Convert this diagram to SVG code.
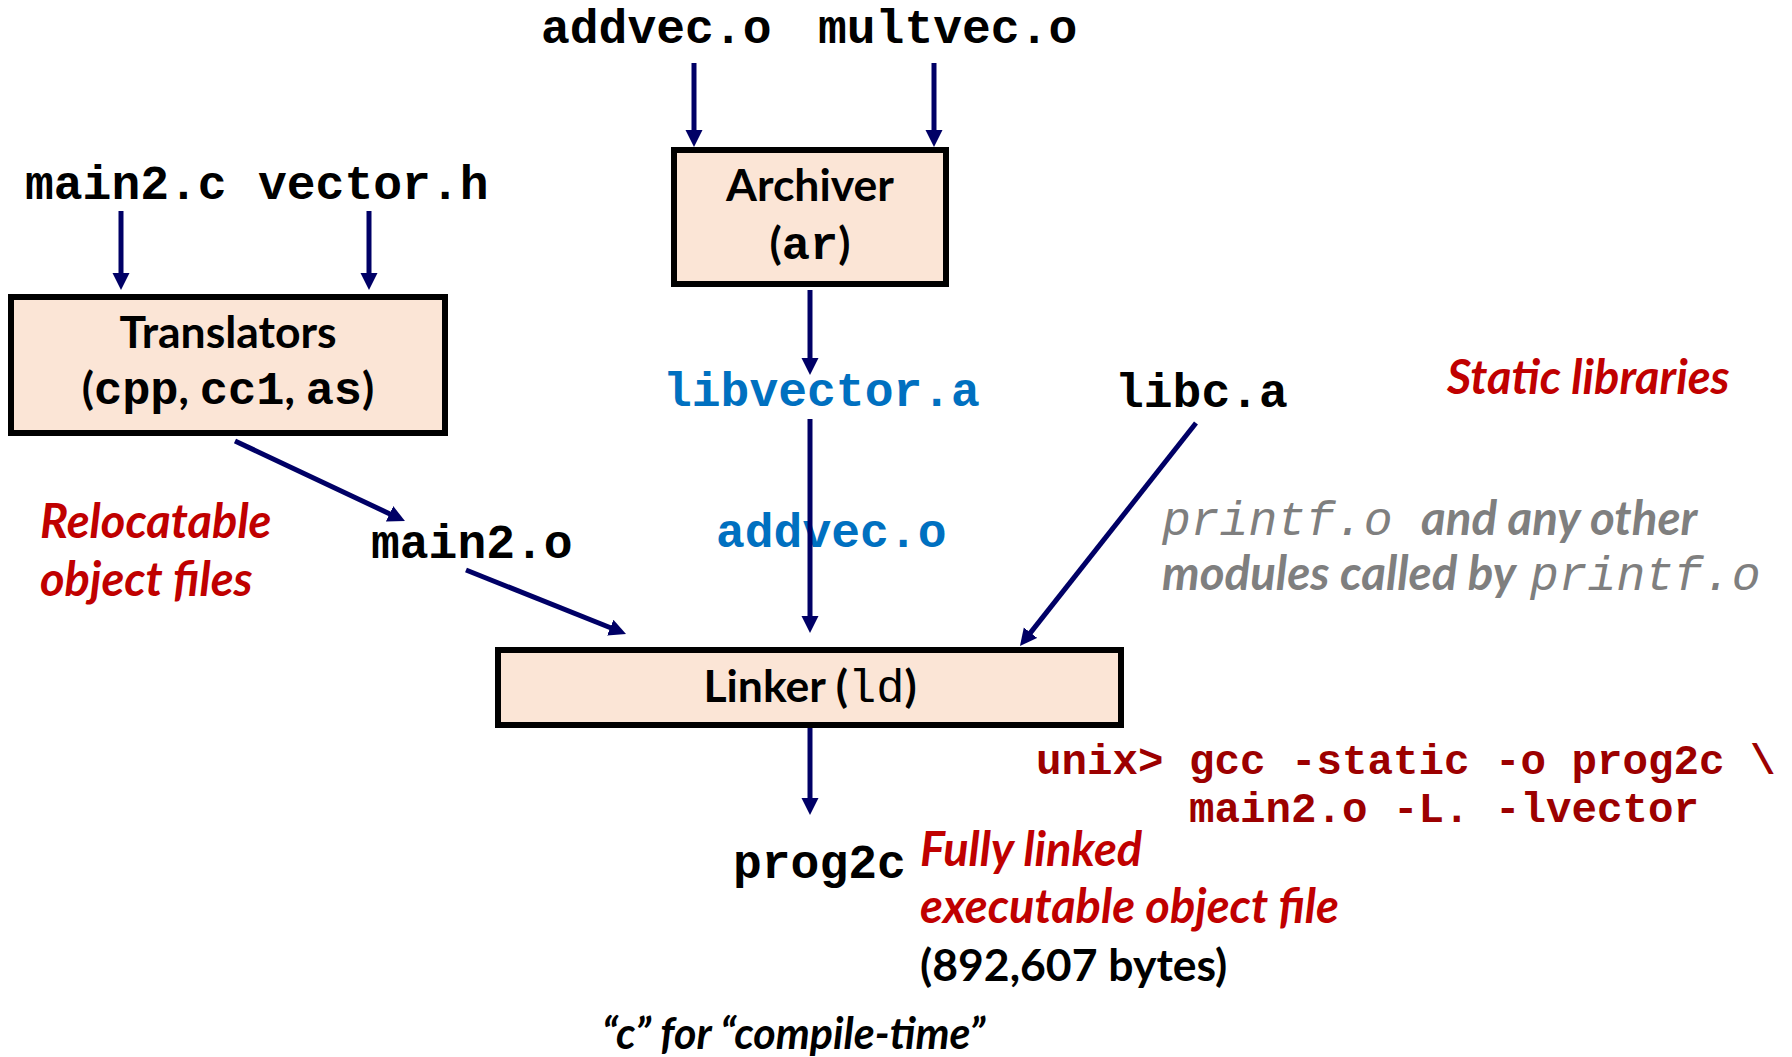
<svg xmlns="http://www.w3.org/2000/svg" width="1792" height="1057" viewBox="0 0 1792 1057">
  <defs>
    <!-- filled navy arrowhead; tip sits 12px past the end of the line -->
    <marker id="ah" markerUnits="userSpaceOnUse" markerWidth="18" markerHeight="18" viewBox="0 -9 18 18" refX="5" refY="0" orient="auto">
      <path d="M0,-8.5 L17,0 L0,8.5 z" fill="#000066"/>
    </marker>
    <style>
      .box { fill: #fbe5d6; stroke: #000; stroke-width: 6; }
      .mono { font-family: "Liberation Mono", "Courier New", monospace; font-weight: bold; font-size: 48px; fill: #000; }
      .lbl { font-family: Lato, "Open Sans", sans-serif; font-weight: bold; font-size: 44.5px; fill: #000; }
      .boxmono { font-family: "Liberation Mono", "Courier New", monospace; font-weight: bold; font-size: 47px; }
      .blue { fill: #0070c0; }
      .note { font-family: Lato, "Open Sans", sans-serif; font-weight: bold; font-style: italic; font-size: 47px; fill: #c00000; }
      .gray { font-family: Lato, "Open Sans", sans-serif; font-weight: bold; font-style: italic; font-size: 47.5px; fill: #7f7f7f; }
      .graymono { font-family: "Liberation Mono", "Courier New", monospace; font-style: italic; font-weight: normal; font-size: 48px; fill: #7f7f7f; }
      .cmd { font-family: "Liberation Mono", "Courier New", monospace; font-weight: bold; font-size: 42.5px; fill: #9c0000; }
      .conn line { stroke: #000066; stroke-width: 5; marker-end: url(#ah); }
    </style>
  </defs>
  <rect width="1792" height="1057" fill="#fff"/>

  <!-- source files -->
  <g id="src-main2c"><text class="mono" x="25" y="199">main2.c</text></g>
  <g id="src-vectorh"><text class="mono" x="258" y="199">vector.h</text></g>
  <g id="src-addvec"><text class="mono" x="541" y="43">addvec.o</text></g>
  <g id="src-multvec"><text class="mono" x="818" y="43">multvec.o</text></g>

  <!-- translators -->
  <g id="translators">
    <rect class="box" x="11" y="297" width="434" height="136"/>
    <text class="lbl" x="228" y="348" text-anchor="middle">Translators</text>
    <text class="lbl" x="228" y="404" text-anchor="middle">(<tspan class="boxmono">cpp</tspan>, <tspan class="boxmono">cc1</tspan>, <tspan class="boxmono">as</tspan>)</text>
  </g>

  <!-- archiver -->
  <g id="archiver">
    <rect class="box" x="674" y="150" width="272" height="134"/>
    <text class="lbl" x="810" y="201" text-anchor="middle">Archiver</text>
    <text class="lbl" x="810" y="259" text-anchor="middle">(<tspan class="boxmono">ar</tspan>)</text>
  </g>

  <!-- intermediate objects and libraries -->
  <g id="main2o"><text class="mono" x="371" y="558">main2.o</text></g>
  <g id="libvector"><text class="mono blue" x="663" y="406">libvector.a</text></g>
  <g id="addvec-member"><text class="mono blue" x="716" y="547">addvec.o</text></g>
  <g id="libc"><text class="mono" x="1115" y="407">libc.a</text></g>

  <!-- linker -->
  <g id="linker">
    <rect class="box" x="498" y="650" width="623" height="75"/>
    <text class="lbl" x="810" y="702" text-anchor="middle">Linker (<tspan class="boxmono" style="font-weight:normal">ld</tspan>)</text>
  </g>

  <!-- executable -->
  <g id="prog2c"><text class="mono" x="733" y="878">prog2c</text></g>

  <!-- connectors -->
  <g class="conn" id="connectors">
    <line x1="121" y1="211" x2="121" y2="278"/>
    <line x1="369" y1="211" x2="369" y2="278"/>
    <line x1="694" y1="63" x2="694" y2="135"/>
    <line x1="934" y1="63" x2="934" y2="135"/>
    <line x1="810" y1="290" x2="810" y2="363"/>
    <line x1="810" y1="419" x2="810" y2="621"/>
    <line x1="810" y1="728" x2="810" y2="803"/>
    <line x1="235" y1="441" x2="394.1" y2="515.9"/>
    <line x1="466" y1="570" x2="614.9" y2="629.5"/>
    <line x1="1196" y1="423" x2="1027.4" y2="636.6"/>
  </g>

  <!-- annotations -->
  <g id="annotations">
    <text class="note" x="1447" y="394">Static libraries</text>
    <text class="note" x="40" y="538">Relocatable</text>
    <text class="note" x="40" y="596">object files</text>
    <text x="1162" y="535"><tspan class="graymono">printf.o</tspan><tspan class="gray" x="1421">and any other</tspan></text>
    <text x="1162" y="590"><tspan class="gray">modules called by </tspan><tspan class="graymono" x="1530">printf.o</tspan></text>
    <text class="cmd" x="1036" y="774">unix&gt; gcc -static -o prog2c \</text>
    <text class="cmd" x="1189" y="822">main2.o -L. -lvector</text>
    <text class="note" x="920" y="866">Fully linked</text>
    <text class="note" x="920" y="923">executable object file</text>
    <text class="lbl" x="920" y="981">(892,607 bytes)</text>
    <text class="lbl" x="602" y="1049" style="font-style:italic;font-size:43px">“c” for “compile-time”</text>
  </g>
</svg>
